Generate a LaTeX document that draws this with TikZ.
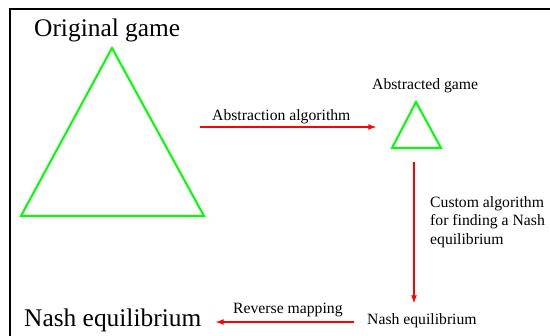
\documentclass[tikz,border=0pt]{standalone}
\usepackage{fontspec}
\setmainfont{Liberation Serif}
\usepackage{tikz}

\tikzset{
    game/.style = {draw = green, line width = 2pt},
    step arrow/.style = {->, draw = red, line width = 1.6pt},
    big label/.style = {inner sep = 0pt, anchor = base west, font = \fontsize{25.4}{30}\selectfont},
    small label/.style = {inner sep = 0pt, anchor = base west, font = \fontsize{15.7}{18.5}\selectfont}
}

\begin{document}
\begin{tikzpicture}[x = 1pt, y = -1pt, >=latex]
            \useasboundingbox (0,0) rectangle (550,336);
            \draw [line width = 1.5pt] (550,9) -- (10,9) -- (10,336);

            % original game
            \node[big label] (original) at (34,37) {Original game};
            \coordinate (o1) at (21,216);
            \coordinate (o2) at (204,216);
            \coordinate (o3) at (112,48);
            \draw [game] (o1) -- (o2) -- (o3) -- cycle;

            % abstracted game
            \node[small label] (abstracted) at (372,90) {Abstracted game};
            \coordinate (a1) at (392,148);
            \coordinate (a2) at (441,148);
            \coordinate (a3) at (416,102);
            \draw [game] (a1) -- (a2) -- (a3) -- cycle;

            % equilibria
            \node[small label] (small nash) at (367,325) {Nash equilibrium};
            \node[big label] (big nash) at (24,327) {Nash equilibrium};

            % arrows
            \coordinate (abs from) at (200,127);
            \coordinate (abs to) at (376,127);
            \coordinate (solve from) at (414,162);
            \coordinate (solve to) at (414,303);
            \coordinate (map from) at (354,322);
            \coordinate (map to) at (216,322);
            \draw [step arrow] (abs from) -- (abs to);
            \draw [step arrow] (solve from) -- (solve to);
            \draw [step arrow] (map from) -- (map to);

            \node[small label] (abs text) at (212,121) {Abstraction algorithm};
            \node[small label, align = left, anchor = north west] (solve text) at (430,196)
                {Custom algorithm\\for finding a Nash\\equilibrium};
            \node[small label] (map text) at (233,314) {Reverse mapping};
    \end{tikzpicture}
\end{document}
